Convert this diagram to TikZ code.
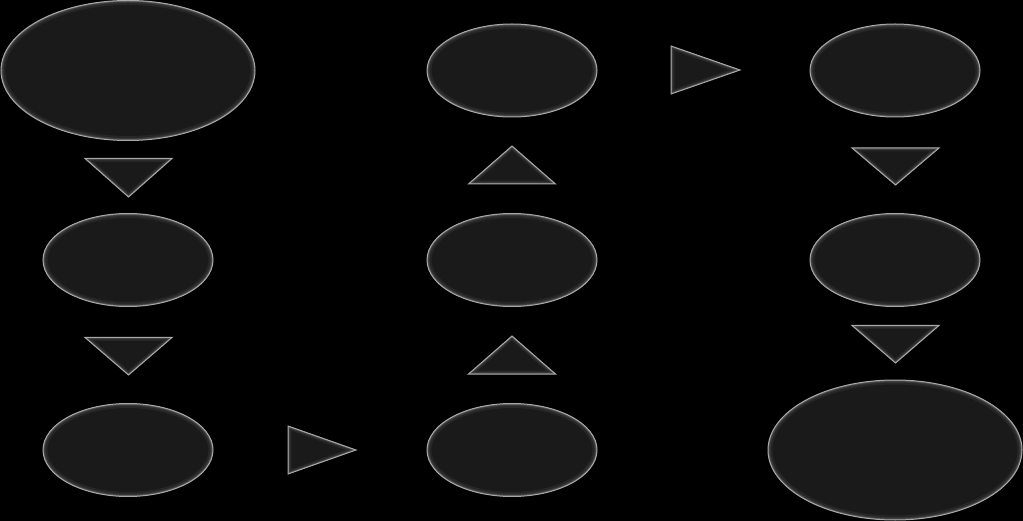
\documentclass[tikz,border=0pt]{standalone}
\usetikzlibrary{shapes.geometric}
\definecolor{body}{HTML}{1A1A1A}
\definecolor{edgec}{HTML}{A8A8A8}
\definecolor{gA}{HTML}{262626}
\definecolor{gB}{HTML}{363636}
\definecolor{gC}{HTML}{585858}
\tikzset{
  glowell/.style 2 args={ellipse, inner sep=0pt, minimum width=#1*2pt, minimum height=#2*2pt,
    fill=body, draw=edgec, line width=1pt,
    path picture={
      \draw[line width=9pt, gA] (path picture bounding box.center) ellipse [x radius=#1pt, y radius=#2pt];
      \draw[line width=5pt, gB] (path picture bounding box.center) ellipse [x radius=#1pt, y radius=#2pt];
      \draw[line width=2.5pt, gC] (path picture bounding box.center) ellipse [x radius=#1pt, y radius=#2pt];
    }},
  big/.style={glowell={127}{70}},
  small/.style={glowell={85}{46.5}},
}
\newcommand\glowtri[3]{%
  \fill[body] #1 -- #2 -- #3 -- cycle;
  \begin{scope}
    \clip #1 -- #2 -- #3 -- cycle;
    \draw[line width=7pt, gA, line join=miter] #1 -- #2 -- #3 -- cycle;
    \draw[line width=4pt, gB, line join=miter] #1 -- #2 -- #3 -- cycle;
    \draw[line width=2pt, gC, line join=miter] #1 -- #2 -- #3 -- cycle;
  \end{scope}
  \draw[edgec, line width=1pt, line join=miter] #1 -- #2 -- #3 -- cycle;}
\begin{document}
\begin{tikzpicture}[x=1pt,y=-1pt]
\fill[black] (0,0) rectangle (1023,521);
\useasboundingbox (0,0) rectangle (1023,521);
% column 1
\node[big]   (e1) at (128,70.5) {};
\node[small] (e2) at (128,260) {};
\node[small] (e3) at (128,450) {};
% column 2
\node[small] (e4) at (512,70.5) {};
\node[small] (e5) at (512,260) {};
\node[small] (e6) at (512,450) {};
% column 3
\node[small] (e7) at (895,70.5) {};
\node[small] (e8) at (895,260) {};
\node[big]   (e9) at (895,450) {};
% arrow triangles
\glowtri{(85,158.5)}{(172,158.5)}{(128.5,197)}
\glowtri{(85,337.5)}{(172,337.5)}{(128.5,375)}
\glowtri{(288,426)}{(288,474)}{(356,450)}
\glowtri{(468.5,374)}{(555.5,374)}{(512,336)}
\glowtri{(468.5,184)}{(555.5,184)}{(512,146)}
\glowtri{(671,46)}{(671,94)}{(740,70)}
\glowtri{(852,148)}{(939,148)}{(895.5,185)}
\glowtri{(852,325.5)}{(939,325.5)}{(895.5,363)}
\end{tikzpicture}
\end{document}
